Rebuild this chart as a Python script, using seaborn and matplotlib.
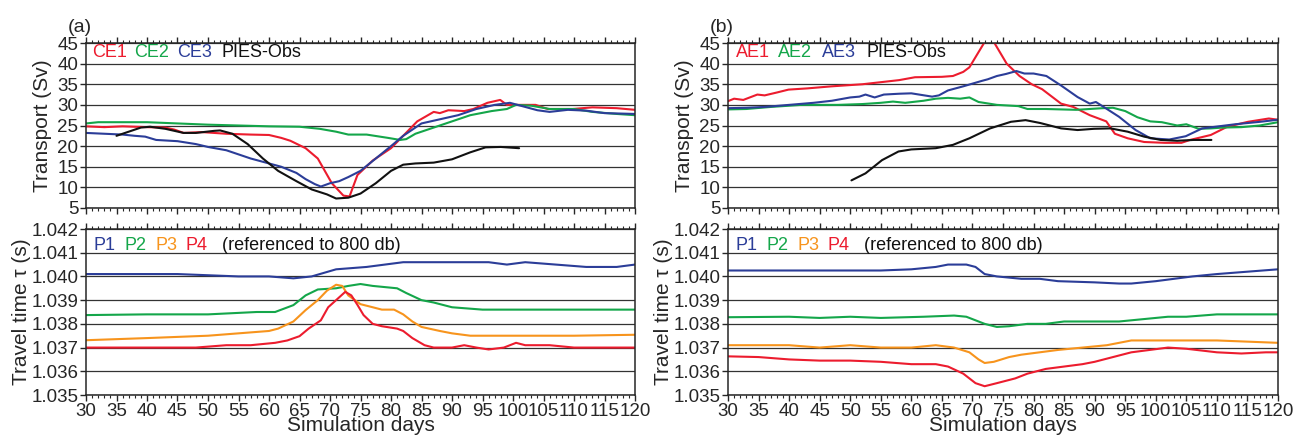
import matplotlib
matplotlib.use("Agg")
import matplotlib.pyplot as plt
from matplotlib.ticker import MultipleLocator, FormatStrFormatter
import seaborn as sns

# ---- panel (a): transport (Sv) ----
ce1_days = [30, 33, 36, 40, 43, 44.5, 46, 49, 53, 57, 60, 62, 63.5, 66, 68, 70.3, 72.2, 73.2, 74.5, 77, 80, 82, 84.3, 87, 88, 89.4, 92, 93.5, 95.8, 97.9, 99, 100.6, 103.7, 105.7, 109.8, 113, 117, 120]
ce1_sv = [24.8, 24.6, 24.8, 24.6, 24.5, 24.0, 23.2, 23.4, 23.0, 22.8, 22.7, 22.0, 21.3, 19.5, 17.0, 11.0, 8.0, 7.8, 13.0, 16.5, 19.5, 22.5, 26.0, 28.3, 28.0, 28.7, 28.5, 29.0, 30.5, 31.2, 30.0, 30.0, 30.0, 29.0, 29.0, 29.4, 29.2, 28.8]

ce2_days = [30, 32, 40, 45, 50, 55, 60, 65, 68.3, 71, 73, 76, 79.5, 81.5, 82.5, 84, 87, 90, 93, 96.5, 99, 100.5, 103, 106, 110, 113, 117, 120]
ce2_sv = [25.5, 25.8, 25.8, 25.5, 25.2, 25.0, 24.8, 24.7, 24.2, 23.5, 22.8, 22.8, 22.0, 21.5, 21.7, 23.0, 24.5, 26.0, 27.5, 28.5, 29.0, 30.0, 29.8, 29.0, 29.0, 28.3, 27.8, 27.5]

ce3_days = [30, 33, 36, 38, 39.7, 41.5, 45, 48, 50, 53, 55, 57, 59.5, 62, 64.5, 66, 67.5, 68.5, 70, 71.5, 73, 75, 77.5, 80, 82, 85, 88, 91, 94, 97, 99.5, 102, 104, 106, 109, 112, 115, 120]
ce3_sv = [23.2, 23.0, 22.8, 22.5, 22.3, 21.5, 21.2, 20.5, 19.8, 19.0, 18.0, 17.0, 16.0, 15.0, 13.5, 12.0, 10.8, 10.2, 11.0, 11.5, 12.5, 14.0, 17.0, 20.0, 22.5, 25.5, 26.5, 27.5, 29.0, 30.0, 30.5, 29.5, 28.7, 28.3, 28.8, 28.6, 28.0, 27.8]

obs_a_days = [35, 37, 39, 40.5, 43, 46, 48, 51, 52, 54, 56.5, 59, 61.5, 64.5, 67, 69.5, 71, 73, 75, 77.5, 80, 82, 84, 87, 90, 93, 95.5, 98, 101]
obs_a_sv = [22.5, 23.5, 24.5, 24.7, 24.2, 23.2, 23.2, 23.7, 23.8, 23.0, 20.5, 17.0, 14.0, 11.5, 9.5, 8.3, 7.3, 7.5, 8.5, 11.0, 14.0, 15.5, 15.8, 16.0, 16.8, 18.5, 19.7, 19.8, 19.5]

# ---- panel (b): transport (Sv) ----
ae1_days = [30, 31, 32.5, 34.8, 36, 38, 39.9, 43, 47, 50, 52, 55, 58, 60.6, 65, 66.8, 68.5, 69.5, 70.8, 71.9, 72.8, 73.6, 75.6, 77.7, 79.7, 81.4, 84.5, 86.5, 89.2, 91.9, 93.3, 95.4, 98.1, 101.5, 104.2, 105.6, 109, 111.7, 115.1, 118.5, 120]
ae1_sv = [30.9, 31.5, 31.2, 32.5, 32.3, 33.0, 33.7, 34.0, 34.5, 34.8, 35.0, 35.5, 36.0, 36.7, 36.8, 37.0, 38.0, 39.1, 42.3, 45.0, 46.5, 45.0, 40.0, 37.0, 35.0, 33.8, 30.3, 29.5, 27.5, 26.0, 23.0, 21.9, 21.0, 20.8, 20.8, 21.5, 22.7, 24.7, 25.9, 26.7, 26.4]

ae2_days = [30, 33, 37, 42, 48, 52, 55, 57, 59, 62, 64, 66, 68, 69.5, 71, 74, 77.5, 79, 82, 87, 91.3, 93, 95, 97, 99.1, 101, 103.5, 105, 107, 109, 111, 114, 117, 120]
ae2_sv = [28.9, 29.0, 29.5, 30.0, 30.0, 30.2, 30.5, 30.8, 30.5, 31.0, 31.5, 31.7, 31.5, 31.8, 30.7, 30.0, 29.7, 29.0, 29.0, 28.8, 29.2, 29.3, 28.5, 27.0, 26.0, 25.8, 25.0, 25.3, 24.2, 24.3, 24.5, 24.6, 25.0, 25.8]

ae3_days = [30, 33, 36, 40, 44, 47, 50, 51.5, 52.5, 54, 55.5, 58, 60, 63.4, 64.5, 66, 68.5, 71.5, 72.5, 74, 75.5, 77.2, 78.5, 80, 82.1, 84.5, 87.2, 89.2, 90.2, 91.9, 94, 96.7, 99.1, 102.2, 104.9, 107.6, 110.3, 113, 117.1, 120]
ae3_sv = [29.2, 29.3, 29.5, 30.0, 30.5, 31.0, 31.8, 32.0, 32.5, 31.8, 32.5, 32.7, 32.8, 32.0, 32.3, 33.5, 34.5, 35.8, 36.2, 37.0, 37.5, 38.2, 37.6, 37.6, 37.0, 34.7, 31.9, 30.3, 30.7, 29.1, 27.1, 23.9, 21.9, 21.6, 22.4, 24.3, 24.8, 25.3, 25.9, 26.4]

obs_b_days = [50.2, 52.5, 55.2, 57.9, 60, 64, 66.8, 69.5, 72.9, 76.3, 78.7, 81.1, 84.5, 87.2, 89.9, 92.6, 95.4, 98.1, 100.8, 103.5, 106.2, 109.1]
obs_b_sv = [11.7, 13.4, 16.6, 18.7, 19.2, 19.5, 20.3, 21.9, 24.3, 25.9, 26.3, 25.6, 24.3, 23.9, 24.2, 24.3, 23.5, 22.3, 21.5, 21.3, 21.5, 21.5]

# ---- panel (a): travel time (s) ----
pa1_days = [30, 40, 45, 55, 60, 64, 67, 71, 76, 79, 82, 86, 93, 96, 99, 102, 107, 112, 117, 120]
pa1_tau = [1.0401, 1.0401, 1.0401, 1.0400, 1.0400, 1.03992, 1.0400, 1.0403, 1.0404, 1.0405, 1.0406, 1.0406, 1.0406, 1.0406, 1.0405, 1.0406, 1.0405, 1.0404, 1.0404, 1.0405]

pa2_days = [30, 40, 50, 58, 61, 64, 66, 68, 71, 73, 75, 77, 81, 82.5, 85, 87, 90, 95, 100, 110, 120]
pa2_tau = [1.03837, 1.0384, 1.0384, 1.0385, 1.0385, 1.03879, 1.0392, 1.03945, 1.0395, 1.0396, 1.03968, 1.0396, 1.0395, 1.0393, 1.0390, 1.0389, 1.0387, 1.0386, 1.0386, 1.0386, 1.0386]

pa3_days = [30, 40, 50, 55, 60, 61.5, 64, 66, 68, 69.5, 71, 72, 73, 75, 77, 78.5, 80.5, 82, 83.5, 85, 88, 90, 93, 96, 100, 110, 120]
pa3_tau = [1.03731, 1.0374, 1.0375, 1.0376, 1.0377, 1.0378, 1.0381, 1.03858, 1.0390, 1.0394, 1.03965, 1.0396, 1.0392, 1.03883, 1.0387, 1.0386, 1.0386, 1.0384, 1.0381, 1.03787, 1.0377, 1.0376, 1.0375, 1.0375, 1.0375, 1.0375, 1.03754]

pa4_days = [30, 40, 48, 53, 57, 61, 63, 65, 66.5, 68.5, 69.7, 71, 72.5, 73.5, 74.5, 75.5, 77, 78.5, 81, 82, 83.5, 85.5, 87, 90, 92, 94, 96, 98.5, 100.5, 102, 106, 110, 115, 120]
pa4_tau = [1.0370, 1.0370, 1.0370, 1.0371, 1.0371, 1.0372, 1.0373, 1.03748, 1.0378, 1.03815, 1.0387, 1.0390, 1.03935, 1.0392, 1.0388, 1.03837, 1.0380, 1.0379, 1.0378, 1.0377, 1.0374, 1.0371, 1.0370, 1.0370, 1.0371, 1.0370, 1.03692, 1.0370, 1.0372, 1.0371, 1.0371, 1.0370, 1.0370, 1.0370]

# ---- panel (b): travel time (s) ----
pb1_days = [30, 40, 50, 55, 60, 64, 66, 69, 70.5, 72, 74, 78, 81, 84, 90, 94, 96, 100, 103, 106, 110, 115, 120]
pb1_tau = [1.04025, 1.04025, 1.04025, 1.04025, 1.0403, 1.0404, 1.0405, 1.0405, 1.0404, 1.0401, 1.0400, 1.0399, 1.0399, 1.0398, 1.03975, 1.0397, 1.0397, 1.0398, 1.0399, 1.0400, 1.0401, 1.0402, 1.0403]

pb2_days = [30, 40, 45, 50, 55, 62, 67, 69, 72, 74, 76, 79, 82, 85, 90, 94, 98, 102, 105, 110, 115, 120]
pb2_tau = [1.03828, 1.0383, 1.03825, 1.0383, 1.03825, 1.0383, 1.03835, 1.0383, 1.0380, 1.03787, 1.0379, 1.0380, 1.0380, 1.0381, 1.0381, 1.0381, 1.0382, 1.0383, 1.0383, 1.0384, 1.0384, 1.0384]

pb3_days = [30, 40, 45, 50, 55, 60, 64, 67, 69.5, 71, 72, 73.5, 76, 78, 81, 84, 88, 92, 96, 100, 105, 110, 115, 120]
pb3_tau = [1.0371, 1.0371, 1.0370, 1.0371, 1.0370, 1.0370, 1.0371, 1.0370, 1.0368, 1.0365, 1.03635, 1.0364, 1.0366, 1.0367, 1.0368, 1.0369, 1.0370, 1.0371, 1.0373, 1.0373, 1.0373, 1.0373, 1.03725, 1.0372]

pb4_days = [30, 35, 40, 45, 50, 55, 60, 64, 66, 68.5, 70.5, 72, 74, 77, 79, 82, 85, 88, 90, 93, 96, 99, 102, 105, 110, 114, 118, 120]
pb4_tau = [1.03663, 1.0366, 1.0365, 1.03645, 1.03645, 1.0364, 1.0363, 1.0363, 1.0362, 1.0359, 1.0355, 1.03537, 1.0355, 1.0357, 1.0359, 1.0361, 1.0362, 1.0363, 1.0364, 1.0366, 1.0368, 1.0369, 1.0370, 1.03695, 1.0368, 1.03675, 1.0368, 1.0368]

RED = "#ec1c2e"
GREEN = "#14a64a"
BLUE = "#2b3d98"
ORANGE = "#f7941d"
BLACK = "#111111"

sns.set_style("ticks")
plt.rcParams["font.family"] = ["Liberation Sans", "DejaVu Sans"]
plt.rcParams["axes.linewidth"] = 1.1

fig = plt.figure(figsize=(12.95, 4.37), dpi=100)
W, H = 1295, 437


def make_ax(left_px, top_px, bottom_px, right_px):
    return fig.add_axes([left_px / W, 1 - bottom_px / H,
                         (right_px - left_px) / W, (bottom_px - top_px) / H])


def style_ax(ax, show_xlabels):
    ax.set_xlim(30, 120)
    ax.xaxis.set_major_locator(MultipleLocator(5))
    ax.xaxis.set_minor_locator(MultipleLocator(1))
    ax.tick_params(axis="x", which="major", direction="out", length=4, width=1,
                   top=True, bottom=True, labelsize=13.5, pad=2,
                   labelbottom=show_xlabels)
    ax.tick_params(axis="x", which="minor", direction="out", length=2.2, width=0.8,
                   top=True, bottom=True)
    ax.tick_params(axis="y", which="major", direction="out", length=4, width=1,
                   labelsize=13.5, pad=1.5, right=False)
    ax.grid(axis="y", color="0.2", lw=0.9)
    ax.grid(axis="x", visible=False)
    ax.set_xlabel("")
    for s in ax.spines.values():
        s.set_visible(True)


def label_row(ax, items, y):
    for xf, txt, col in items:
        ax.text(xf, y, txt, color=col, fontsize=13, transform=ax.transAxes,
                va="center", ha="left")


panels = [
    # left px, right px, panel letter, transport series, travel series
    (86, 635, "(a)",
     [(ce1_days, ce1_sv, RED), (ce2_days, ce2_sv, GREEN), (ce3_days, ce3_sv, BLUE), (obs_a_days, obs_a_sv, BLACK)],
     [(pa1_days, pa1_tau, BLUE), (pa2_days, pa2_tau, GREEN), (pa3_days, pa3_tau, ORANGE), (pa4_days, pa4_tau, RED)],
     [(0.012, "CE1", RED), (0.088, "CE2", GREEN), (0.166, "CE3", BLUE), (0.246, "PIES-Obs", BLACK)]),
    (728, 1278, "(b)",
     [(ae1_days, ae1_sv, RED), (ae2_days, ae2_sv, GREEN), (ae3_days, ae3_sv, BLUE), (obs_b_days, obs_b_sv, BLACK)],
     [(pb1_days, pb1_tau, BLUE), (pb2_days, pb2_tau, GREEN), (pb3_days, pb3_tau, ORANGE), (pb4_days, pb4_tau, RED)],
     [(0.0145, "AE1", RED), (0.091, "AE2", GREEN), (0.171, "AE3", BLUE), (0.251, "PIES-Obs", BLACK)]),
]

for left, right, letter, top_series, bot_series, top_labels in panels:
    ax1 = make_ax(left, 43, 208, right)
    for d, v, c in top_series:
        sns.lineplot(x=d, y=v, ax=ax1, color=c, lw=1.5, sort=False, estimator=None)
    ax1.set_ylim(5, 45)
    ax1.yaxis.set_major_locator(MultipleLocator(5))
    style_ax(ax1, False)
    ax1.set_ylabel("Transport (Sv)", fontsize=15, labelpad=4)
    label_row(ax1, top_labels, 0.945)

    ax2 = make_ax(left, 229, 395, right)
    for d, v, c in bot_series:
        sns.lineplot(x=d, y=v, ax=ax2, color=c, lw=1.5, sort=False, estimator=None)
    ax2.set_ylim(1.035, 1.042)
    ax2.yaxis.set_major_locator(MultipleLocator(0.001))
    ax2.yaxis.set_major_formatter(FormatStrFormatter("%.3f"))
    style_ax(ax2, True)
    ax2.set_ylabel("Travel time \u03c4 (s)", fontsize=15, labelpad=0)
    ax2.set_xlabel("Simulation days", fontsize=15, labelpad=-3)
    label_row(ax2, [(0.013, "P1", BLUE), (0.07, "P2", GREEN), (0.126, "P3", ORANGE),
                    (0.181, "P4", RED), (0.247, "(referenced to 800 db)", BLACK)], 0.903)

    fig.text((left - 18) / W, 1 - 27 / H, letter, fontsize=14, va="center", ha="left")

fig.savefig("out.png", dpi=100)
